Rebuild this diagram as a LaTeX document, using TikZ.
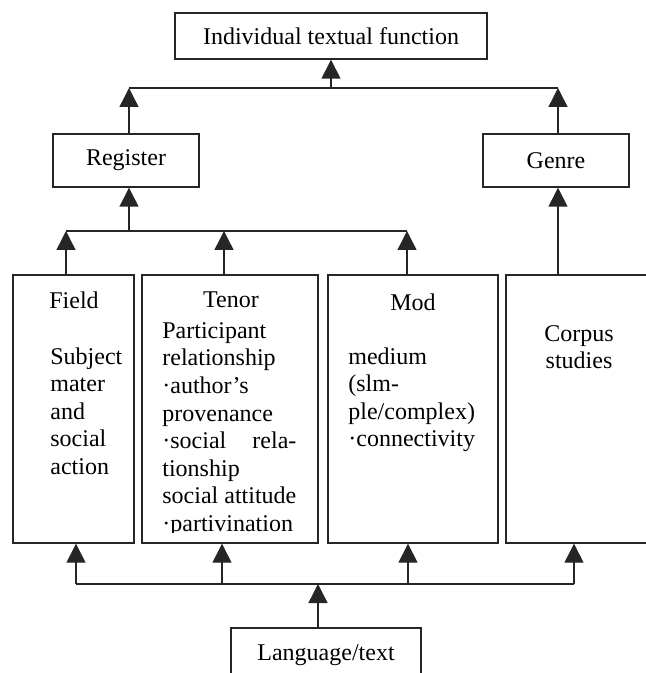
\documentclass[tikz,border=0pt]{standalone}
\usepackage{fontspec}
\setmainfont{Liberation Serif}
\usetikzlibrary{arrows.meta}
\begin{document}
\begin{tikzpicture}[x=0.5pt,y=-0.5pt,
    box/.style={draw=black!85,line width=0.7pt,inner sep=0pt,font=\fontsize{12}{13.8}\selectfont},
    txt/.style={inner sep=0pt,font=\fontsize{12}{13.8}\selectfont},
    arr/.style={draw=black!85,line width=0.7pt,-{Triangle[length=9.5pt,width=9.5pt]}},
    bus/.style={draw=black!85,line width=0.7pt}]
\useasboundingbox (0,0) rectangle (646,673);
%%% Small boxes
\node[box,minimum width=156pt,minimum height=23pt] (func) at (331,36) {Individual textual function};
\node[box,minimum width=73pt,minimum height=26.5pt] (register) at (126,160.5) {Register};
\node[box,minimum width=73pt,minimum height=26.5pt] (genre) at (556,160.5) {Genre};
\node[box,minimum width=95pt,minimum height=27pt] (lang) at (326,655) {Language/text};
%%% Tall boxes
\node[box,minimum width=60.5pt,minimum height=134pt] (field) at (73.5,409) {};
\node[box,minimum width=88pt,minimum height=134pt] (tenor) at (230,409) {};
\node[box,minimum width=85pt,minimum height=134pt] (mod) at (413,409) {};
\node[box,minimum width=73pt,minimum height=134pt] (corpus) at (579,409) {};
%%% Texts in the tall boxes
\node[txt] (fieldhd) at (74,300) {Field};
\node[txt,anchor=north west,align=left] (fieldtxt) at (50,347) {Subject\\mater\\and\\social\\action};
\node[txt] (tenorhd) at (231,300) {Tenor};
\begin{scope}
  % text runs past the box bottom, cut it
  \clip (142,275) rectangle (318,532);
  \node[txt,anchor=north west,align=left] (tenortxt) at (162,322)
    {Participant\\relationship\\·author’s\\provenance\\\makebox[67pt][l]{·social\hfill rela-}\\tionship\\social attitude\\·partivination};
\end{scope}
\node[txt] (modhd) at (413,302) {Mod};
\node[txt,anchor=north west,align=left] (modtxt) at (348,347) {medium\\(slm-\\ple/complex)\\·connectivity};
\node[txt,anchor=north,align=center] (corpustxt) at (579,325) {Corpus\\studies};
%%% Bus under the top box
\coordinate (t0) at (331,88);
\coordinate (t1) at (129,88);
\coordinate (t2) at (558,88);
\draw[bus] (t1) -- (t2);
\draw[arr] (t0) -- (t0 |- func.south);
\draw[arr] (register.north -| t1) -- (t1);
\draw[arr] (genre.north -| t2) -- (t2);
%%% Bus under Register
\coordinate (r0) at (129,231);
\coordinate (r1) at (66,231);
\coordinate (r2) at (224,231);
\coordinate (r3) at (407,231);
\draw[bus] (r1) -- (r3);
\draw[arr] (r0) -- (r0 |- register.south);
\foreach \c/\b in {r1/field,r2/tenor,r3/mod}
    \draw[arr] (\b.north -| \c) -- (\c);
\draw[arr] (corpus.north -| t2) -- (t2 |- genre.south);
%%% Bus from Language/text
\coordinate (b0) at (318,584);
\coordinate (b1) at (76,584);
\coordinate (b2) at (222,584);
\coordinate (b3) at (408,584);
\coordinate (b4) at (574,584);
\draw[bus] (b1) -- (b4);
\draw[arr] (lang.north -| b0) -- (b0);
\foreach \c/\b in {b1/field,b2/tenor,b3/mod,b4/corpus}
    \draw[arr] (\c) -- (\c |- \b.south);
\end{tikzpicture}
\end{document}
